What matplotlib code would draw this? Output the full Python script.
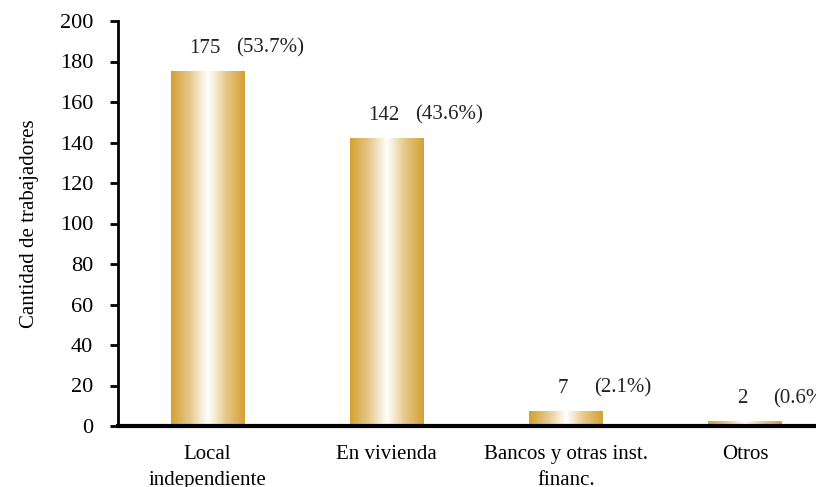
import numpy as np
import matplotlib
matplotlib.use("Agg")
from matplotlib import pyplot as plt
from matplotlib.colors import LinearSegmentedColormap

categories = ["Local\nindependiente", "En vivienda", "Bancos y otras inst.\nfinanc.", "Otros"]
counts = [175, 142, 7, 2]
percents = ["(53.7%)", "(43.6%)", "(2.1%)", "(0.6%)"]

plt.rcParams['font.family'] = ['Liberation Serif', 'DejaVu Serif']

fig = plt.figure(figsize=(8.16, 4.87), dpi=100)
ax = fig.add_axes([118 / 816, 61 / 487, 716.5 / 816, 405 / 487])

gold = "#D4A232"
cmap = LinearSegmentedColormap.from_list(
    "goldbar", [gold, "#E6C788", "#FFFFFF", "#E6C788", gold])
grad = np.linspace(0, 1, 256).reshape(1, -1)

width = 0.41
x = np.arange(len(categories))
bars = ax.bar(x, counts, width=width, color="none", edgecolor="none")
for b in bars:
    x0, w, h = b.get_x(), b.get_width(), b.get_height()
    ax.imshow(grad, cmap=cmap, aspect="auto", extent=[x0, x0 + w, 0, h],
              interpolation="bicubic", zorder=2)

for xi, c, p in zip(x, counts, percents):
    ax.annotate(str(c), (xi, c), xytext=(-2, 10), textcoords="offset points",
                ha="center", va="bottom", fontsize=15, color="#222222")
    ax.annotate(p, (xi + 0.16, c), xytext=(0, 10), textcoords="offset points",
                ha="left", va="bottom", fontsize=15, color="#222222")

ax.set_xlim(-0.5, 3.5)
ax.set_ylim(0, 200)
ax.set_yticks(range(0, 201, 20))
ax.set_xticks(x)
ax.set_xticklabels(categories, fontsize=15, linespacing=1.45)
ax.tick_params(axis="y", labelsize=16, width=2, length=6, direction="out", pad=12)
ax.tick_params(axis="x", length=0, pad=14)
ax.set_ylabel("Cantidad de trabajadores", fontsize=15, labelpad=15)

ax.spines["top"].set_visible(False)
ax.spines["right"].set_visible(False)
ax.spines["left"].set_linewidth(2)
ax.spines["bottom"].set_linewidth(3)

fig.savefig("out.png", dpi=100)
